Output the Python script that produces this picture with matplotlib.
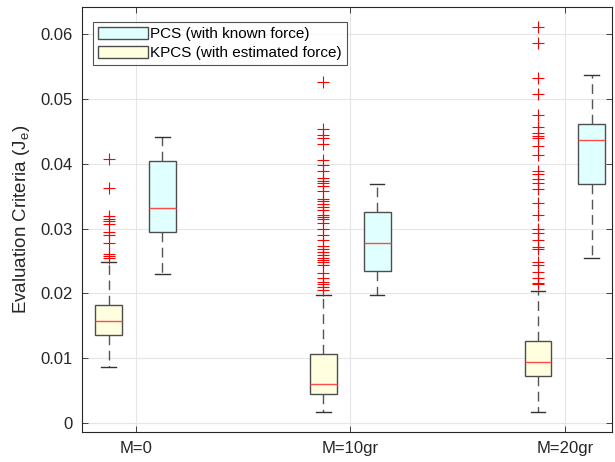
"""Boxplots of evaluation criteria J_e for PCS vs KPCS at three load masses."""

import matplotlib
matplotlib.use("Agg")
import matplotlib.pyplot as plt
from matplotlib.patches import Patch

plt.rcParams["font.family"] = ["Liberation Sans", "DejaVu Sans"]

GROUPS = ["M=0", "M=10gr", "M=20gr"]

# KPCS (with estimated force): whisker low, q1, median, q3, whisker high
KPCS_STATS = [
    (0.00866, 0.01356, 0.01572, 0.01819, 0.02484),
    (0.00160, 0.00438, 0.00598, 0.01062, 0.01974),
    (0.00160, 0.00722, 0.00938, 0.01268, 0.02035),
]
KPCS_FLIERS = [
    [0.0407, 0.0363, 0.0319, 0.0315, 0.0311, 0.0307, 0.0294, 0.0290,
     0.0278, 0.0260, 0.0257, 0.0254],
    [0.0527, 0.0454, 0.0444, 0.0440, 0.0431, 0.0406, 0.0399, 0.0389,
     0.0378, 0.0373, 0.0370, 0.0366, 0.0358, 0.0346, 0.0342, 0.0338,
     0.0334, 0.0329, 0.0321, 0.0318, 0.0314, 0.0308, 0.0300, 0.0290,
     0.0283, 0.0273, 0.0269, 0.0264, 0.0259, 0.0255, 0.0251, 0.0248,
     0.0243, 0.0232, 0.0223, 0.0218, 0.0214, 0.0209, 0.0205],
    [0.0611, 0.0587, 0.0532, 0.0508, 0.0476, 0.0457, 0.0448, 0.0443,
     0.0440, 0.0427, 0.0414, 0.0389, 0.0384, 0.0376, 0.0370, 0.0361,
     0.0339, 0.0321, 0.0300, 0.0293, 0.0282, 0.0271, 0.0268, 0.0249,
     0.0244, 0.0233, 0.0223, 0.0216, 0.0214],
]

# PCS (with known force)
PCS_STATS = [
    (0.0229, 0.0295, 0.0331, 0.0405, 0.0442),
    (0.0197, 0.0235, 0.0277, 0.0326, 0.0369),
    (0.0255, 0.0369, 0.0437, 0.0461, 0.0538),
]

YTICKS = [0, 0.01, 0.02, 0.03, 0.04, 0.05, 0.06]

OFFSET = 0.125
WIDTH = 0.125
EDGE = "#4d4d4d"
PCS_COLOR = "#e0ffff"
KPCS_COLOR = "#ffffe0"


def _bxp_stats(stats, fliers=None):
    out = []
    for i, (lo, q1, med, q3, hi) in enumerate(stats):
        out.append({
            "whislo": lo, "q1": q1, "med": med, "q3": q3, "whishi": hi,
            "fliers": fliers[i] if fliers else [],
        })
    return out


def _draw(ax, stats, positions, face):
    ax.bxp(
        stats, positions=positions, widths=WIDTH, capwidths=WIDTH * 0.55,
        patch_artist=True, showfliers=True,
        boxprops=dict(facecolor=face, edgecolor=EDGE, linewidth=1.0),
        medianprops=dict(color="#ff4a4a", linewidth=1.0),
        whiskerprops=dict(color="#555555", linewidth=1.0, linestyle=(0, (7, 4))),
        capprops=dict(color="#333333", linewidth=1.0),
        flierprops=dict(marker="+", markeredgecolor="red", markersize=8,
                        markeredgewidth=0.8, linestyle="none"),
        manage_ticks=False, zorder=3,
    )


fig = plt.figure(figsize=(6.15, 4.62), dpi=100)
ax = fig.add_axes([0.1333, 0.0656, 0.8620, 0.9186])

centers = [1, 2, 3]
_draw(ax, _bxp_stats(KPCS_STATS, KPCS_FLIERS), [c - OFFSET for c in centers], KPCS_COLOR)
_draw(ax, _bxp_stats(PCS_STATS), [c + OFFSET for c in centers], PCS_COLOR)

ax.set_xlim(0.75, 3.22)
ax.set_ylim(-0.0014, 0.0642)
ax.set_xticks(centers)
ax.set_xticklabels(GROUPS)
ax.set_yticks(YTICKS)
ax.set_yticklabels([f"{v:g}" for v in YTICKS])
ax.tick_params(direction="in", top=True, right=True, length=4,
               colors="#262626", labelsize=12, width=0.6, pad=7)
ax.grid(True, color="#e6e6e6", linewidth=0.8, zorder=0)
ax.set_axisbelow(True)
for sp in ax.spines.values():
    sp.set_color("#262626")
    sp.set_linewidth(0.8)

ax.set_ylabel("Evaluation Criteria (J$_\\mathregular{e}$)", fontsize=13.5,
              color="#262626", labelpad=6)

handles = [
    Patch(facecolor=PCS_COLOR, edgecolor=EDGE, label="PCS (with known force)"),
    Patch(facecolor=KPCS_COLOR, edgecolor=EDGE, label="KPCS (with estimated force)"),
]
leg = ax.legend(handles=handles, loc="upper left", bbox_to_anchor=(0.021, 0.965),
                fontsize=11, frameon=True, fancybox=False, handlelength=3.3,
                handleheight=0.85, handletextpad=0.15, borderpad=0.3,
                labelspacing=0.3, borderaxespad=0.0)
leg.get_frame().set_edgecolor("#262626")
leg.get_frame().set_linewidth(0.8)

fig.savefig("out.png", dpi=100)
